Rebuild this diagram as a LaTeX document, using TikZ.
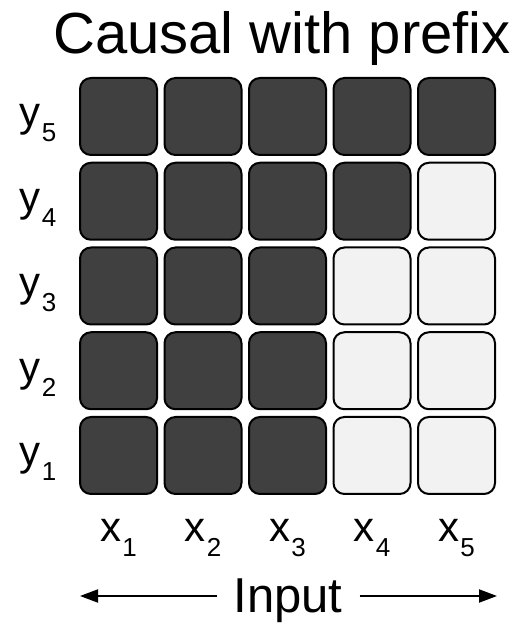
\documentclass[tikz,border=0pt]{standalone}
\usepackage{fontspec}
\setmainfont{Liberation Sans}
\usetikzlibrary{arrows.meta}
\newcommand{\lsub}[1]{\kern1pt\raisebox{-15pt}{\fontsize{26}{26}\selectfont #1}}
\definecolor{darkcell}{HTML}{404040}
\definecolor{lightcell}{HTML}{F2F2F2}
\begin{document}
\begin{tikzpicture}[x=1pt,y=1pt,
  cell/.style={draw=black, line width=2pt, rounded corners=11pt, minimum width=77pt, minimum height=77pt, inner sep=0pt, anchor=center},
  on/.style={cell, fill=darkcell},
  off/.style={cell, fill=lightcell},
  lab/.style={font=\fontsize{42}{44}\selectfont, inner sep=0pt, anchor=base},
  arr/.style={line width=2pt, -{Triangle[length=18pt,width=13pt]}}]
\useasboundingbox (0,0) rectangle (524,623);
\node[anchor=base, inner sep=0pt, font=\fontsize{58}{60}\selectfont] (title) at (282,569) {Causal with prefix};
% rows: r=1 bottom .. 5 top
\foreach \r in {1,...,5}{
  \foreach \c in {1,...,5}{
    \pgfmathsetmacro{\cx}{118.5+(\c-1)*84.5}
    \pgfmathsetmacro{\cy}{623-(116.5+(5-\r)*84.75)}
    \pgfmathtruncatemacro{\isoff}{(\c>3 && \r<5 && !(\r==4 && \c==4)) ? 1 : 0}
    \ifnum\isoff=1
      \node[off] (c\r\c) at (\cx,\cy) {};
    \else
      \node[on] (c\r\c) at (\cx,\cy) {};
    \fi
  }
  \pgfmathsetmacro{\by}{623-(127+(5-\r)*84.75)}
  \node[lab] (y\r) at (38,\by) {y\lsub{\r}};
}
\foreach \c in {1,...,5}{
  \pgfmathsetmacro{\cx}{118.5+(\c-1)*84.5}
  \node[lab] (x\c) at (\cx,81) {x\lsub{\c}};
}
\node[anchor=base, inner sep=0pt, font=\fontsize{49}{50}\selectfont] (input) at (288,10) {Input};
\coordinate (al) at (80,27);
\coordinate (ar) at (497,27);
\draw[arr] ([xshift=-16pt]input.west |- al) -- (al);
\draw[arr] ([xshift=17pt]input.east |- ar) -- (ar);
\end{tikzpicture}
\end{document}
